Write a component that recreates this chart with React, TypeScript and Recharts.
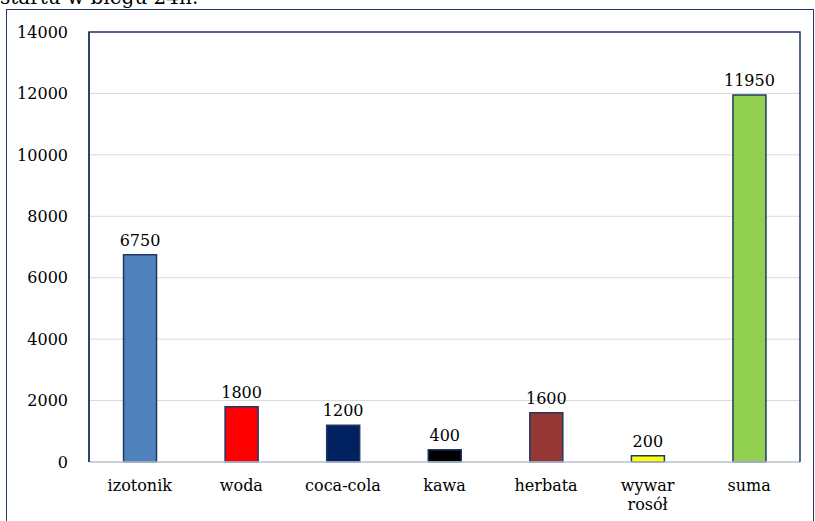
import {BarChart, Bar, XAxis, YAxis, CartesianGrid, LabelList, Cell} from 'recharts';

const categories = ['izotonik', 'woda', 'coca-cola', 'kawa', 'herbata', 'wywar rosół', 'suma'];
const amounts = [6750, 1800, 1200, 400, 1600, 200, 11950];
const barColors = ['#4F81BD', '#FF0000', '#002060', '#000000', '#953735', '#FFFF00', '#92D050'];
const yTicks = [0, 2000, 4000, 6000, 8000, 10000, 12000, 14000];

const data = categories.map((name, i) => ({name, value: amounts[i]}));

const font = '"DejaVu Serif", serif';
const navy = '#1F3864';

const CategoryTick = (props: any) => {
    const {x, y, payload} = props;
    const words = String(payload.value).split(' ');
    return (
        <text x={x} y={y} textAnchor="middle" fill="#000" fontFamily={font} fontSize={16}>
            {words.map((w, i) => (
                <tspan key={i} x={x} dy={i === 0 ? 21 : 19}>{w}</tspan>
            ))}
        </text>
    );
};

export default function App() {
    return (
        <div style={{position: 'absolute', left: 0, top: 0, width: 815, height: 521, overflow: 'hidden', background: '#fff'}}>
            <div style={{position: 'absolute', left: 0, top: -15, fontFamily: font, fontSize: 20, lineHeight: '24px', whiteSpace: 'nowrap'}}>
                startu w biegu 24h.
            </div>
            <div style={{position: 'absolute', left: 6, top: 9, width: 806, height: 530, border: `1px solid ${navy}`}}/>
            <div style={{position: 'absolute', left: 0, top: 0}}>
                <BarChart width={815} height={521} data={data} margin={{top: 32, right: 15, left: 0, bottom: 19}}
                          barCategoryGap="34%">
                    <CartesianGrid vertical={false} stroke="#D9D9D9" strokeWidth={1}/>
                    <XAxis dataKey="name" height={40} interval={0} tickLine={false}
                           axisLine={{stroke: '#BFC6D4', strokeWidth: 1.5}} tick={<CategoryTick/>}/>
                    <YAxis width={89} domain={[0, 14000]} ticks={yTicks} interval={0} tickLine={false}
                           axisLine={{stroke: navy, strokeWidth: 1.5}} tickMargin={15}
                           tick={{fill: '#000', fontFamily: font, fontSize: 16}}/>
                    <Bar dataKey="value" isAnimationActive={false} stroke={navy} strokeWidth={1.5}>
                        {data.map((d, i) => (
                            <Cell key={d.name} fill={barColors[i]}/>
                        ))}
                        <LabelList dataKey="value" position="top" offset={9} fill="#000" fontFamily={font}
                                   fontSize={16}/>
                    </Bar>
                </BarChart>
            </div>
            <svg width={815} height={521} style={{position: 'absolute', left: 0, top: 0, pointerEvents: 'none'}}>
                <path d="M89 462 V32 H800 V462" fill="none" stroke={navy} strokeWidth={1.5}/>
            </svg>
        </div>
    );
}
